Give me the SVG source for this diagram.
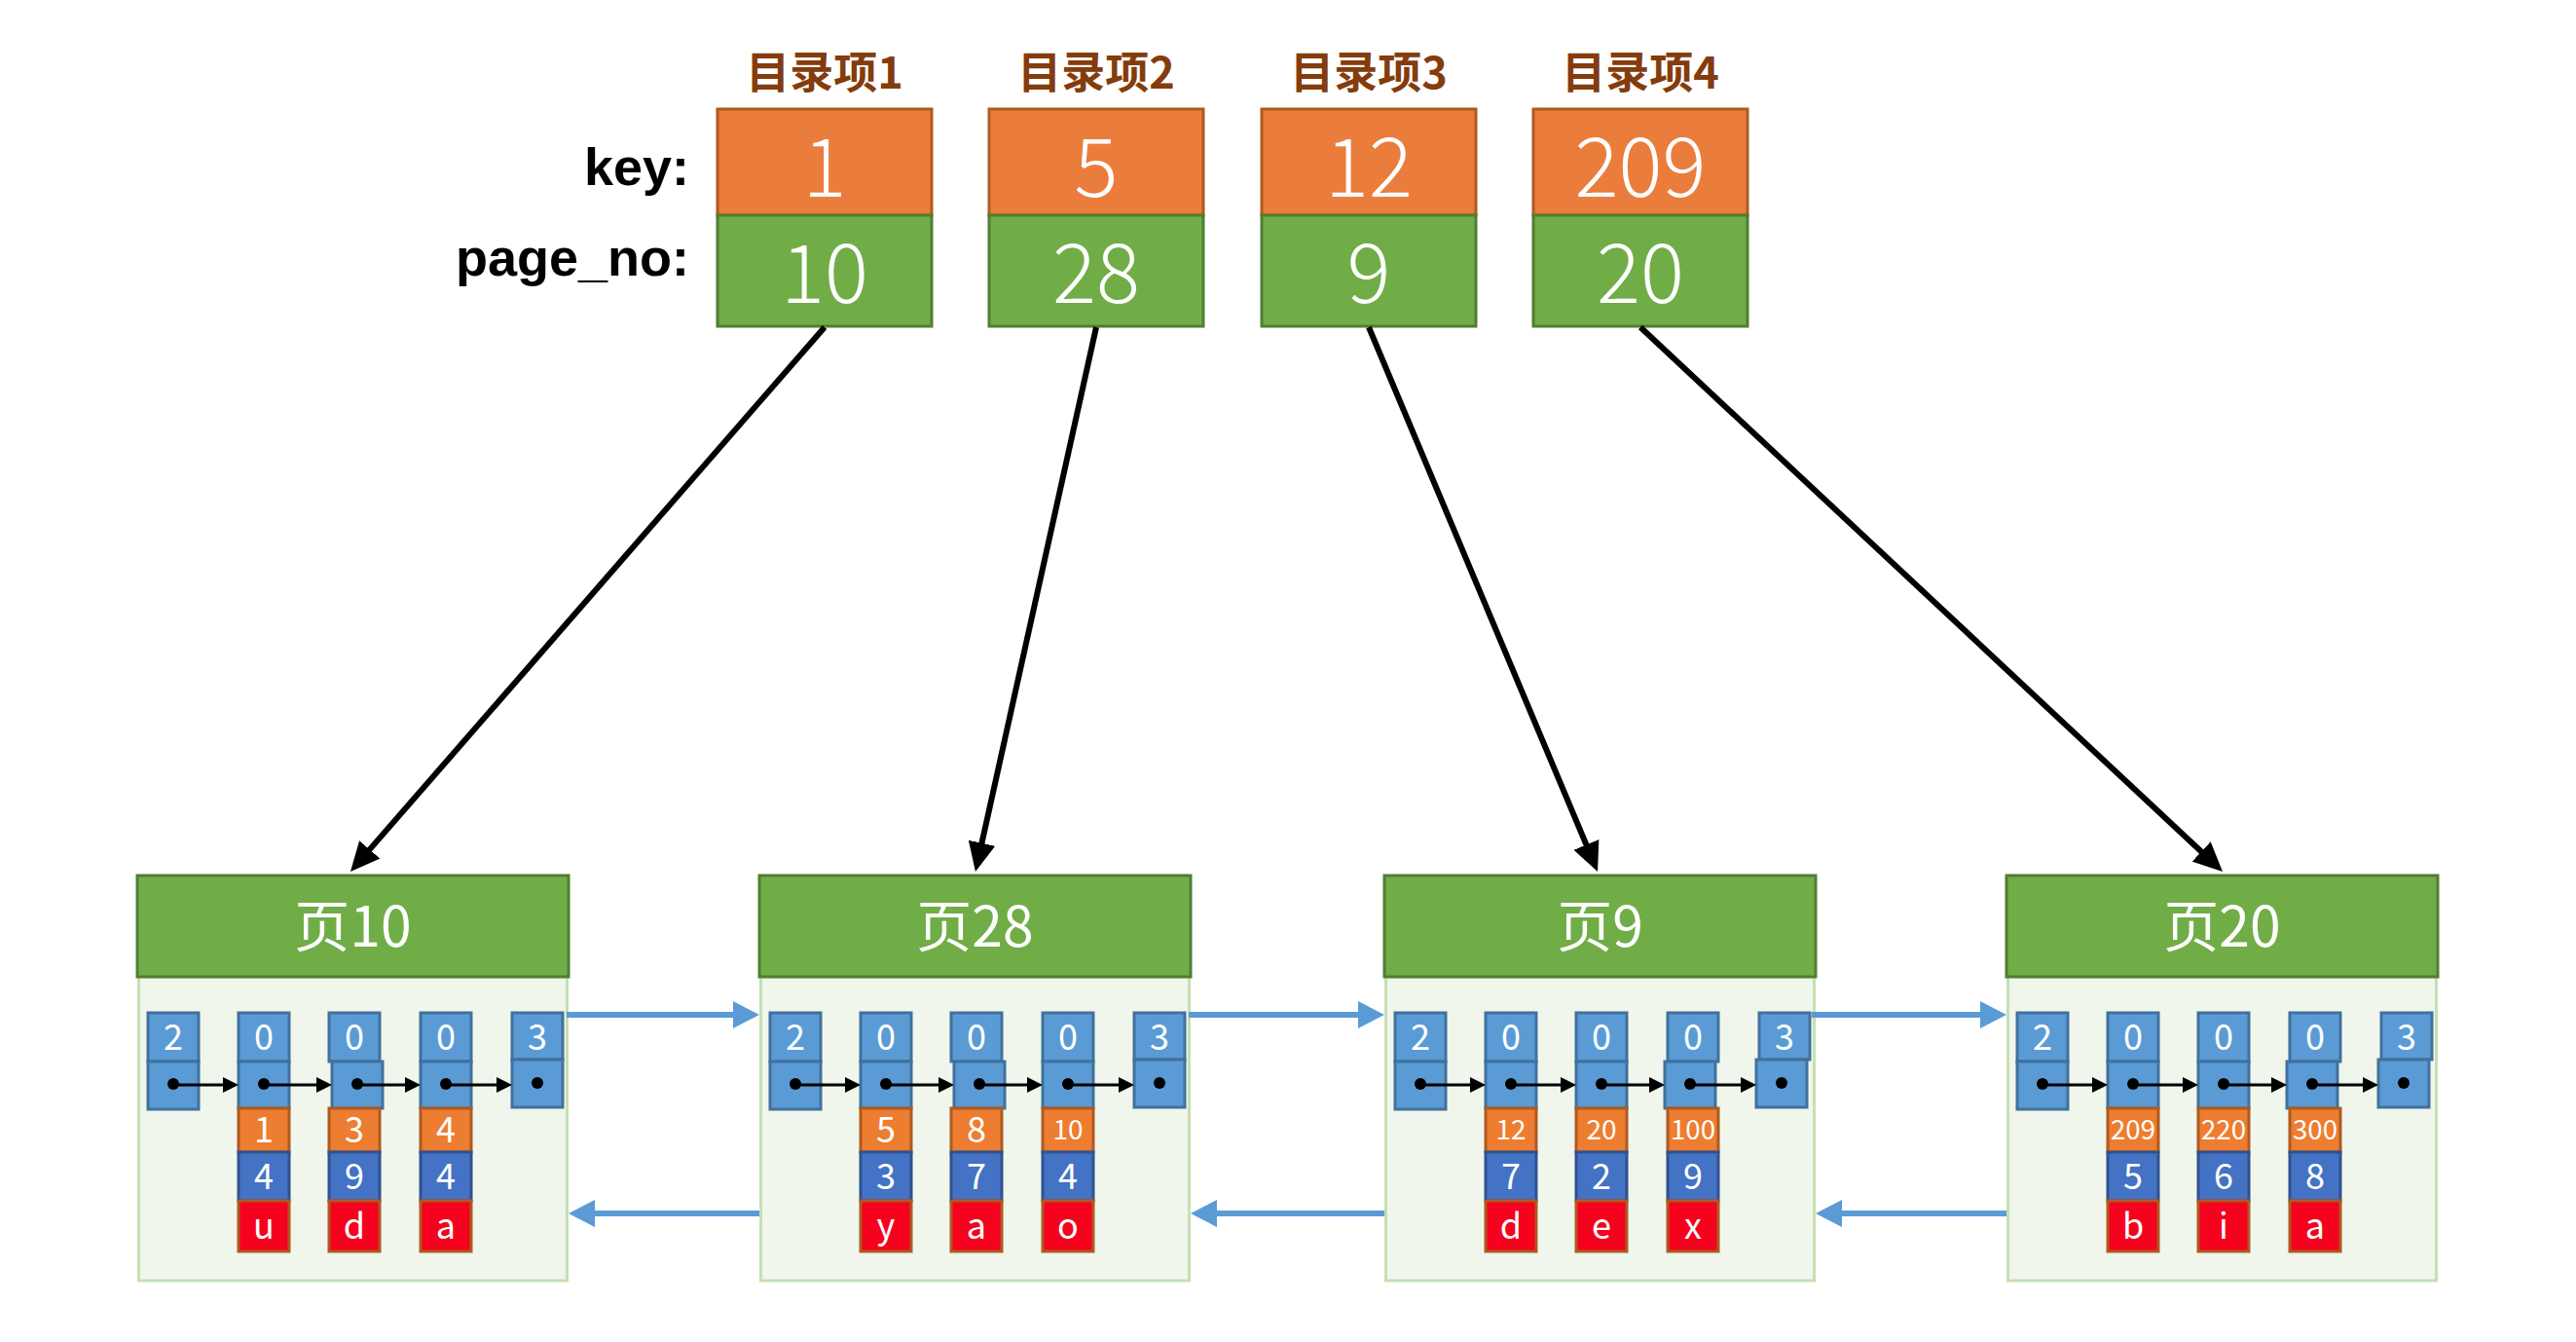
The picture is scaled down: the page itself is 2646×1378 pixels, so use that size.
<svg xmlns="http://www.w3.org/2000/svg" width="2646" height="1378" viewBox="0 0 2646 1378">
<style>
.t{font-family:"Noto Sans CJK SC","Noto Sans",sans-serif;fill:#fff;text-anchor:middle}
.lbl{font-family:"Noto Sans CJK SC","Noto Sans",sans-serif;font-weight:700;font-size:45px;fill:#843C0C;text-anchor:middle}
.side{font-family:"Liberation Sans","Noto Sans",sans-serif;font-weight:700;font-size:54px;fill:#000;text-anchor:end}
.big{font-size:84px;font-weight:300}
.hdt{font-size:57px}
.s36{font-size:36px}
.s28{font-size:28px}
.kb{fill:#EB7D3C;stroke:#AE5A21;stroke-width:3}
.gb{fill:#70AD47;stroke:#507E32;stroke-width:3}
.hdr{fill:#70AD47;stroke:#507E32;stroke-width:3}
.body{fill:#F0F6EC;stroke:#C5E0B4;stroke-width:3}
.c1{fill:#5B9BD5;stroke:#41719C;stroke-width:3}
.ok{fill:#ED7D31;stroke:#AE5A21;stroke-width:3}
.db{fill:#4472C4;stroke:#2F528F;stroke-width:3}
.rd{fill:#F5021E;stroke:#AE5A21;stroke-width:3}
.ptr{stroke:#000;stroke-width:3;fill:none;marker-end:url(#sa)}
.dot{fill:#000}
.big-arrow{stroke:#000;stroke-width:6;fill:none;marker-end:url(#ba)}
.blue{stroke:#5B9BD5;stroke-width:6;fill:none;marker-end:url(#bl)}
</style>
<defs>
<marker id="sa" markerUnits="userSpaceOnUse" markerWidth="16" markerHeight="16" refX="2" refY="8" orient="auto"><path d="M0,0 L16,8 L0,16 z" fill="#000"/></marker>
<marker id="ba" markerUnits="userSpaceOnUse" markerWidth="30" markerHeight="28" refX="10" refY="14" orient="auto"><path d="M0,0 L30,14 L0,28 z" fill="#000"/></marker>
<marker id="bl" markerUnits="userSpaceOnUse" markerWidth="27" markerHeight="28" refX="12" refY="14" orient="auto"><path d="M0,0 L27,14 L0,28 z" fill="#5B9BD5"/></marker>
</defs>
<rect width="2646" height="1378" fill="#fff"/>

<g id="row-labels">
<text class="side" x="708" y="190">key:</text>
<text class="side" x="708" y="283">page_no:</text>
</g>

<g id="dir1">
<text class="lbl" x="847" y="91">目录项1</text>
<rect class="kb" x="737" y="112" width="220" height="109"/>
<rect class="gb" x="737" y="221" width="220" height="114"/>
<text class="t big" x="847" y="202">1</text>
<text class="t big" x="847" y="311">10</text>
</g>
<g id="dir2">
<text class="lbl" x="1126" y="91">目录项2</text>
<rect class="kb" x="1016" y="112" width="220" height="109"/>
<rect class="gb" x="1016" y="221" width="220" height="114"/>
<text class="t big" x="1126" y="202">5</text>
<text class="t big" x="1126" y="311">28</text>
</g>
<g id="dir3">
<text class="lbl" x="1406" y="91">目录项3</text>
<rect class="kb" x="1296" y="112" width="220" height="109"/>
<rect class="gb" x="1296" y="221" width="220" height="114"/>
<text class="t big" x="1406" y="202">12</text>
<text class="t big" x="1406" y="311">9</text>
</g>
<g id="dir4">
<text class="lbl" x="1685" y="91">目录项4</text>
<rect class="kb" x="1575" y="112" width="220" height="109"/>
<rect class="gb" x="1575" y="221" width="220" height="114"/>
<text class="t big" x="1685" y="202">209</text>
<text class="t big" x="1685" y="311">20</text>
</g>

<g id="page10" transform="translate(141,0)">
<rect class="body" x="1.5" y="1003" width="440" height="312"/>
<rect class="hdr" x="0" y="899" width="443" height="104"/>
<text class="t hdt" x="221.5" y="972">页10</text>
<rect class="c1" x="11" y="1040" width="52" height="50"/><rect class="c1" x="11" y="1090" width="52" height="49"/>
<rect class="c1" x="104" y="1040" width="52" height="50"/><rect class="c1" x="104" y="1090" width="52" height="48"/>
<rect class="c1" x="197" y="1040" width="52" height="50"/><rect class="c1" x="200" y="1090" width="52" height="48"/>
<rect class="c1" x="291" y="1040" width="52" height="50"/><rect class="c1" x="291" y="1090" width="52" height="48"/>
<rect class="c1" x="385" y="1040" width="52" height="48"/><rect class="c1" x="385" y="1088" width="52" height="49"/>
<rect class="ok" x="104" y="1138" width="52" height="45"/><rect class="ok" x="197" y="1138" width="52" height="45"/><rect class="ok" x="291" y="1138" width="52" height="45"/>
<rect class="db" x="104" y="1183" width="52" height="50"/><rect class="db" x="197" y="1183" width="52" height="50"/><rect class="db" x="291" y="1183" width="52" height="50"/>
<rect class="rd" x="104" y="1233" width="52" height="52"/><rect class="rd" x="197" y="1233" width="52" height="52"/><rect class="rd" x="291" y="1233" width="52" height="52"/>
<text class="t s36" x="37" y="1078">2</text><text class="t s36" x="130" y="1078">0</text><text class="t s36" x="223" y="1078">0</text><text class="t s36" x="317" y="1078">0</text><text class="t s36" x="411" y="1078">3</text>
<text class="t s36" x="130" y="1173">1</text><text class="t s36" x="223" y="1173">3</text><text class="t s36" x="317" y="1173">4</text>
<text class="t s36" x="130" y="1221">4</text><text class="t s36" x="223" y="1221">9</text><text class="t s36" x="317" y="1221">4</text>
<text class="t s36" x="130" y="1272">u</text><text class="t s36" x="223" y="1272">d</text><text class="t s36" x="317" y="1272">a</text>
<line class="ptr" x1="37" y1="1114" x2="90" y2="1114"/><line class="ptr" x1="130" y1="1114" x2="186" y2="1114"/><line class="ptr" x1="226" y1="1114" x2="277" y2="1114"/><line class="ptr" x1="317" y1="1114" x2="371" y2="1114"/>
<circle class="dot" cx="37" cy="1113" r="6"/><circle class="dot" cx="130" cy="1113" r="6"/><circle class="dot" cx="226" cy="1113" r="6"/><circle class="dot" cx="317" cy="1113" r="6"/><circle class="dot" cx="411" cy="1112" r="6"/>
</g>

<g id="page28" transform="translate(780,0)">
<rect class="body" x="1.5" y="1003" width="440" height="312"/>
<rect class="hdr" x="0" y="899" width="443" height="104"/>
<text class="t hdt" x="221.5" y="972">页28</text>
<rect class="c1" x="11" y="1040" width="52" height="50"/><rect class="c1" x="11" y="1090" width="52" height="49"/>
<rect class="c1" x="104" y="1040" width="52" height="50"/><rect class="c1" x="104" y="1090" width="52" height="48"/>
<rect class="c1" x="197" y="1040" width="52" height="50"/><rect class="c1" x="200" y="1090" width="52" height="48"/>
<rect class="c1" x="291" y="1040" width="52" height="50"/><rect class="c1" x="291" y="1090" width="52" height="48"/>
<rect class="c1" x="385" y="1040" width="52" height="48"/><rect class="c1" x="385" y="1088" width="52" height="49"/>
<rect class="ok" x="104" y="1138" width="52" height="45"/><rect class="ok" x="197" y="1138" width="52" height="45"/><rect class="ok" x="291" y="1138" width="52" height="45"/>
<rect class="db" x="104" y="1183" width="52" height="50"/><rect class="db" x="197" y="1183" width="52" height="50"/><rect class="db" x="291" y="1183" width="52" height="50"/>
<rect class="rd" x="104" y="1233" width="52" height="52"/><rect class="rd" x="197" y="1233" width="52" height="52"/><rect class="rd" x="291" y="1233" width="52" height="52"/>
<text class="t s36" x="37" y="1078">2</text><text class="t s36" x="130" y="1078">0</text><text class="t s36" x="223" y="1078">0</text><text class="t s36" x="317" y="1078">0</text><text class="t s36" x="411" y="1078">3</text>
<text class="t s36" x="130" y="1173">5</text><text class="t s36" x="223" y="1173">8</text><text class="t s28" x="317" y="1170">10</text>
<text class="t s36" x="130" y="1221">3</text><text class="t s36" x="223" y="1221">7</text><text class="t s36" x="317" y="1221">4</text>
<text class="t s36" x="130" y="1272">y</text><text class="t s36" x="223" y="1272">a</text><text class="t s36" x="317" y="1272">o</text>
<line class="ptr" x1="37" y1="1114" x2="90" y2="1114"/><line class="ptr" x1="130" y1="1114" x2="186" y2="1114"/><line class="ptr" x1="226" y1="1114" x2="277" y2="1114"/><line class="ptr" x1="317" y1="1114" x2="371" y2="1114"/>
<circle class="dot" cx="37" cy="1113" r="6"/><circle class="dot" cx="130" cy="1113" r="6"/><circle class="dot" cx="226" cy="1113" r="6"/><circle class="dot" cx="317" cy="1113" r="6"/><circle class="dot" cx="411" cy="1112" r="6"/>
</g>

<g id="page9" transform="translate(1422,0)">
<rect class="body" x="1.5" y="1003" width="440" height="312"/>
<rect class="hdr" x="0" y="899" width="443" height="104"/>
<text class="t hdt" x="221.5" y="972">页9</text>
<rect class="c1" x="11" y="1040" width="52" height="50"/><rect class="c1" x="11" y="1090" width="52" height="49"/>
<rect class="c1" x="104" y="1040" width="52" height="50"/><rect class="c1" x="104" y="1090" width="52" height="48"/>
<rect class="c1" x="197" y="1040" width="52" height="50"/><rect class="c1" x="197" y="1090" width="52" height="48"/>
<rect class="c1" x="291" y="1040" width="52" height="50"/><rect class="c1" x="288" y="1090" width="52" height="48"/>
<rect class="c1" x="385" y="1040" width="52" height="48"/><rect class="c1" x="382" y="1088" width="52" height="49"/>
<rect class="ok" x="104" y="1138" width="52" height="45"/><rect class="ok" x="197" y="1138" width="52" height="45"/><rect class="ok" x="291" y="1138" width="52" height="45"/>
<rect class="db" x="104" y="1183" width="52" height="50"/><rect class="db" x="197" y="1183" width="52" height="50"/><rect class="db" x="291" y="1183" width="52" height="50"/>
<rect class="rd" x="104" y="1233" width="52" height="52"/><rect class="rd" x="197" y="1233" width="52" height="52"/><rect class="rd" x="291" y="1233" width="52" height="52"/>
<text class="t s36" x="37" y="1078">2</text><text class="t s36" x="130" y="1078">0</text><text class="t s36" x="223" y="1078">0</text><text class="t s36" x="317" y="1078">0</text><text class="t s36" x="411" y="1078">3</text>
<text class="t s28" x="130" y="1170">12</text><text class="t s28" x="223" y="1170">20</text><text class="t s28" x="317" y="1170" textLength="46" lengthAdjust="spacingAndGlyphs">100</text>
<text class="t s36" x="130" y="1221">7</text><text class="t s36" x="223" y="1221">2</text><text class="t s36" x="317" y="1221">9</text>
<text class="t s36" x="130" y="1272">d</text><text class="t s36" x="223" y="1272">e</text><text class="t s36" x="317" y="1272">x</text>
<line class="ptr" x1="37" y1="1114" x2="90" y2="1114"/><line class="ptr" x1="130" y1="1114" x2="183" y2="1114"/><line class="ptr" x1="223" y1="1114" x2="274" y2="1114"/><line class="ptr" x1="314" y1="1114" x2="368" y2="1114"/>
<circle class="dot" cx="37" cy="1113" r="6"/><circle class="dot" cx="130" cy="1113" r="6"/><circle class="dot" cx="223" cy="1113" r="6"/><circle class="dot" cx="314" cy="1113" r="6"/><circle class="dot" cx="408" cy="1112" r="6"/>
</g>

<g id="page20" transform="translate(2061,0)">
<rect class="body" x="1.5" y="1003" width="440" height="312"/>
<rect class="hdr" x="0" y="899" width="443" height="104"/>
<text class="t hdt" x="221.5" y="972">页20</text>
<rect class="c1" x="11" y="1040" width="52" height="50"/><rect class="c1" x="11" y="1090" width="52" height="49"/>
<rect class="c1" x="104" y="1040" width="52" height="50"/><rect class="c1" x="104" y="1090" width="52" height="48"/>
<rect class="c1" x="197" y="1040" width="52" height="50"/><rect class="c1" x="197" y="1090" width="52" height="48"/>
<rect class="c1" x="291" y="1040" width="52" height="50"/><rect class="c1" x="288" y="1090" width="52" height="48"/>
<rect class="c1" x="385" y="1040" width="52" height="48"/><rect class="c1" x="382" y="1088" width="52" height="49"/>
<rect class="ok" x="104" y="1138" width="52" height="45"/><rect class="ok" x="197" y="1138" width="52" height="45"/><rect class="ok" x="291" y="1138" width="52" height="45"/>
<rect class="db" x="104" y="1183" width="52" height="50"/><rect class="db" x="197" y="1183" width="52" height="50"/><rect class="db" x="291" y="1183" width="52" height="50"/>
<rect class="rd" x="104" y="1233" width="52" height="52"/><rect class="rd" x="197" y="1233" width="52" height="52"/><rect class="rd" x="291" y="1233" width="52" height="52"/>
<text class="t s36" x="37" y="1078">2</text><text class="t s36" x="130" y="1078">0</text><text class="t s36" x="223" y="1078">0</text><text class="t s36" x="317" y="1078">0</text><text class="t s36" x="411" y="1078">3</text>
<text class="t s28" x="130" y="1170" textLength="46" lengthAdjust="spacingAndGlyphs">209</text><text class="t s28" x="223" y="1170" textLength="46" lengthAdjust="spacingAndGlyphs">220</text><text class="t s28" x="317" y="1170" textLength="46" lengthAdjust="spacingAndGlyphs">300</text>
<text class="t s36" x="130" y="1221">5</text><text class="t s36" x="223" y="1221">6</text><text class="t s36" x="317" y="1221">8</text>
<text class="t s36" x="130" y="1272">b</text><text class="t s36" x="223" y="1272">i</text><text class="t s36" x="317" y="1272">a</text>
<line class="ptr" x1="37" y1="1114" x2="90" y2="1114"/><line class="ptr" x1="130" y1="1114" x2="183" y2="1114"/><line class="ptr" x1="223" y1="1114" x2="274" y2="1114"/><line class="ptr" x1="314" y1="1114" x2="368" y2="1114"/>
<circle class="dot" cx="37" cy="1113" r="6"/><circle class="dot" cx="130" cy="1113" r="6"/><circle class="dot" cx="223" cy="1113" r="6"/><circle class="dot" cx="314" cy="1113" r="6"/><circle class="dot" cx="408" cy="1112" r="6"/>
</g>

<g id="connectors">
<line class="big-arrow" x1="847" y1="336" x2="373.1" y2="879.9"/>
<line class="big-arrow" x1="1126" y1="336" x2="1006.3" y2="875.5"/>
<line class="big-arrow" x1="1406" y1="336" x2="1633.3" y2="876.6"/>
<line class="big-arrow" x1="1685" y1="336" x2="2268.4" y2="881.3"/>
<line class="blue" x1="582" y1="1042" x2="765" y2="1042"/>
<line class="blue" x1="1221" y1="1042" x2="1407" y2="1042"/>
<line class="blue" x1="1861" y1="1042" x2="2046" y2="1042"/>
<line class="blue" x1="780" y1="1246" x2="599" y2="1246"/>
<line class="blue" x1="1422" y1="1246" x2="1238" y2="1246"/>
<line class="blue" x1="2061" y1="1246" x2="1880" y2="1246"/>
</g>
</svg>
